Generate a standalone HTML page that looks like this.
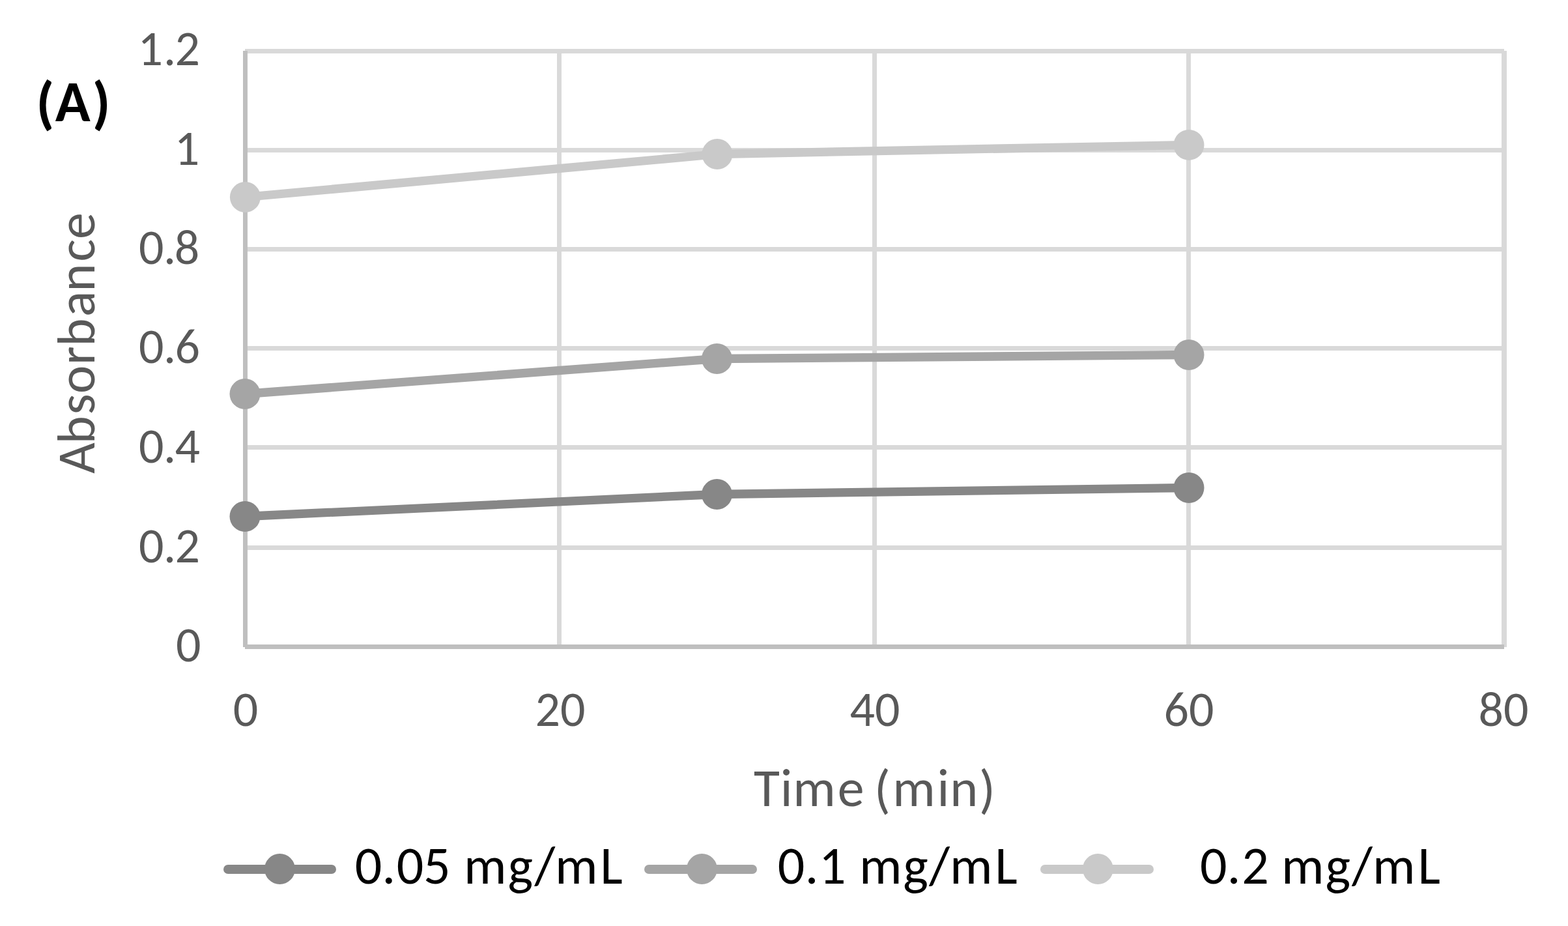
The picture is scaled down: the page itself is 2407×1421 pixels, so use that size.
<!DOCTYPE html>
<html>
<head>
<meta charset="utf-8">
<title>Absorbance vs Time</title>
<style>
html,body{margin:0;padding:0;background:#fff;}
body{width:2407px;height:1421px;overflow:hidden;}
svg{display:block;}
text{font-family:Carlito,"Liberation Sans",sans-serif;font-size-adjust:cap-height 0.6416;}
.tk{font-size:76px;fill:#595959;}
.ti{font-size:82px;fill:#595959;}
.lg{font-size:82px;fill:#000;}
</style>
</head>
<body>
<svg width="2407" height="1421" viewBox="0 0 2407 1421">
<rect width="2407" height="1421" fill="#fff"/>
<g fill="#d9d9d9">
<rect x="376" y="75" width="1933" height="7"/>
<rect x="376" y="227" width="1933" height="7"/>
<rect x="376" y="379" width="1933" height="7"/>
<rect x="376" y="531" width="1933" height="7"/>
<rect x="376" y="683" width="1933" height="7"/>
<rect x="376" y="837" width="1933" height="7"/>
<rect x="855" y="78" width="7" height="915"/>
<rect x="1339" y="78" width="7" height="915"/>
<rect x="1821" y="78" width="7" height="915"/>
<rect x="2305" y="78" width="8" height="915"/>
</g>
<g fill="#bfbfbf">
<rect x="373" y="78" width="7" height="915"/>
<rect x="376" y="989" width="1933" height="7"/>
</g>
<g fill="none" stroke-width="13.3" stroke-linejoin="round">
<polyline stroke="#878787" points="376,792.5 1100.5,758.5 1825,748.5"/>
<polyline stroke="#a5a5a5" points="376,604.5 1100.5,550.5 1825,544.5"/>
<polyline stroke="#c9c9c9" points="376.4,302.5 1101,236.5 1825,222.4"/>
</g>
<circle cx="376" cy="792.5" r="23.5" fill="#878787"/>
<circle cx="1100.5" cy="758.5" r="23.5" fill="#878787"/>
<circle cx="1825" cy="748.5" r="23.5" fill="#878787"/>
<circle cx="376" cy="604.5" r="23.5" fill="#a5a5a5"/>
<circle cx="1100.5" cy="550.5" r="23.5" fill="#a5a5a5"/>
<circle cx="1825" cy="544.5" r="23.5" fill="#a5a5a5"/>
<circle cx="376.4" cy="302.5" r="23.5" fill="#c9c9c9"/>
<circle cx="1101" cy="236.5" r="23.5" fill="#c9c9c9"/>
<circle cx="1825" cy="222.4" r="23.5" fill="#c9c9c9"/>
<g class="tk">
<text x="211.43 251.03 268.59" y="100">1.2</text>
<text x="267.83" y="253">1</text>
<text x="212.93 251.03 267.86" y="405">0.8</text>
<text x="212.93 251.03 268.59" y="557">0.6</text>
<text x="212.93 251.03 268.59" y="709.5">0.4</text>
<text x="212.93 251.03 268.59" y="862.7">0.2</text>
<text x="270.03" y="1015">0</text>
</g>
<g class="tk" text-anchor="middle">
<text x="377" y="1113.5">0</text>
<text x="860" y="1113.5">20</text>
<text x="1343" y="1113.5">40</text>
<text x="1825" y="1113.5">60</text>
<text x="2308" y="1113.5">80</text>
</g>
<text class="ti" x="1157.1 1197.7 1217.21 1285.8 1326.6 1341.89 1370.21 1438.6 1458.29 1502.88" y="1237 1237 1237 1237 1237 1239 1237 1237 1237 1239">Time (min)</text>
<text class="ti" transform="translate(144.9,0) rotate(-90)" x="-726.82 -681.27 -636.3 -604.0 -560.05 -531.57 -486.06 -447.41 -401.46 -366.9" y="0">Absorbance</text>
<text style="font-size:89px;font-weight:bold;fill:#000;font-size-adjust:none"><tspan x="55.5" y="188.2">(</tspan><tspan x="84.8" y="186">A</tspan><tspan x="141.7" y="188.2">)</tspan></text>
<g stroke-width="14" stroke-linecap="round">
<line x1="350" y1="1334" x2="509" y2="1334" stroke="#878787"/>
<line x1="996" y1="1334" x2="1155" y2="1334" stroke="#a5a5a5"/>
<line x1="1604" y1="1334" x2="1764" y2="1334" stroke="#c9c9c9"/>
</g>
<circle cx="429.5" cy="1333.5" r="23.5" fill="#878787"/>
<circle cx="1077.5" cy="1333.5" r="23.5" fill="#a5a5a5"/>
<circle cx="1685.4" cy="1333.5" r="23.5" fill="#c9c9c9"/>
<g class="lg">
<text x="544.73 586.53 608.68 650.08 691.64 711.91 779.44 820.48 852.01 921.37" y="1355.8">0.05 mg/mL</text>
<text x="1193.68 1235.73 1256.91 1298.47 1318.91 1386.34 1426.28 1458.01 1527.37" y="1355.8">0.1 mg/mL</text>
<text x="1841.88 1883.63 1906.32 1947.88 1967.01 2034.44 2075.28 2107.01 2176.47" y="1355.8">0.2 mg/mL</text>
</g>
</svg>
</body>
</html>
